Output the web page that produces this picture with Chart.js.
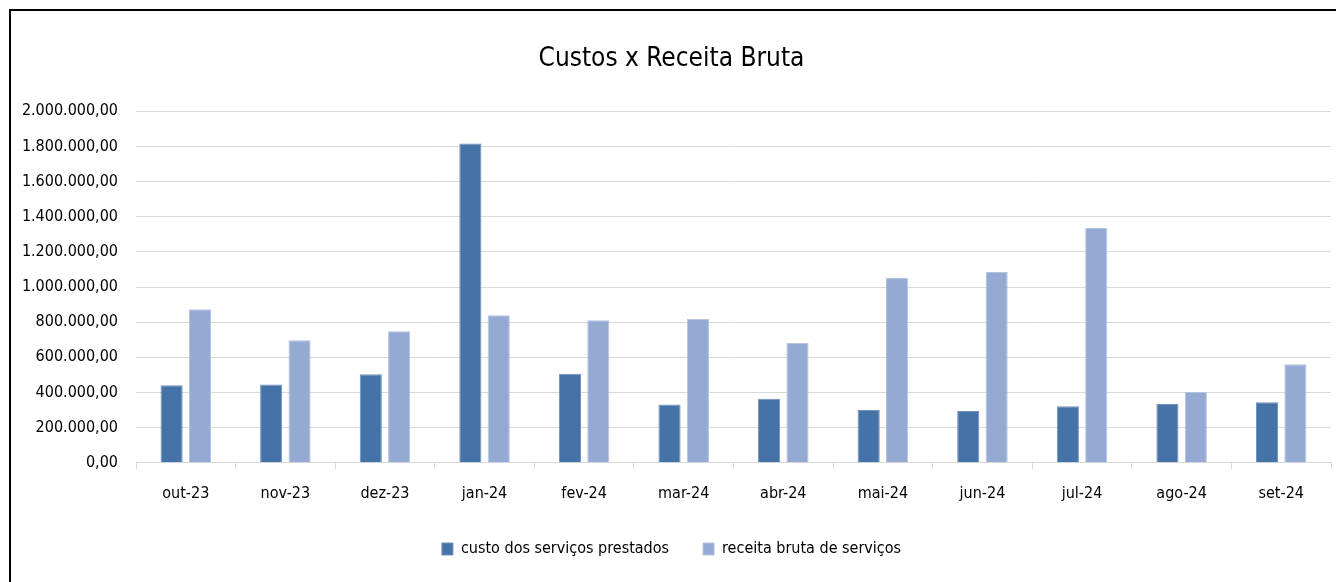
<!DOCTYPE html>
<html>
<head>
<meta charset="utf-8">
<script src="https://cdn.jsdelivr.net/npm/chart.js@4.4.0/dist/chart.umd.min.js"></script>
<style>
  body { margin: 0; background: #fff; overflow: hidden; }
  #wrap { position: relative; width: 1336px; height: 582px; overflow: hidden; }
  #moldura {
    position: absolute; left: 9px; top: 9px; width: 1400px; height: 600px;
    border-left: 2px solid #000; border-top: 2px solid #000; pointer-events: none;
  }
</style>
</head>
<body>
<div id="wrap">
  <canvas id="grafico" width="1336" height="582"></canvas>
  <div id="moldura"></div>
</div>
<script>
// dados do gráfico
const meses = ['out-23', 'nov-23', 'dez-23', 'jan-24', 'fev-24', 'mar-24', 'abr-24', 'mai-24', 'jun-24', 'jul-24', 'ago-24', 'set-24'];
const custos = [441000, 445000, 504000, 1816000, 506000, 331000, 365000, 301000, 294000, 322000, 335000, 345000];
const receita = [873000, 697000, 748000, 839000, 811000, 818000, 682000, 1051000, 1085000, 1335000, 403000, 561000];
const nomesSeries = ['custo dos serviços prestados', 'receita bruta de serviços'];
const titulo = 'Custos x Receita Bruta';

const fonte = "'Liberation Sans Narrow', 'DejaVu Sans Condensed', sans-serif";

// formato 1.234.567,00
function formataBR(v) {
    var inteiro = Math.round(v).toString();
    inteiro = inteiro.replace(/\B(?=(\d{3})+(?!\d))/g, '.');
    return inteiro + ',00';
}

const config = {
    type: 'bar',
    data: {
        labels: meses,
        datasets: [
            {
                label: nomesSeries[0],
                data: custos,
                backgroundColor: '#4673a7',
                borderColor: '#6f8fbc',
                borderWidth: 1,
                categoryPercentage: 0.57,
                barPercentage: 0.78
            },
            {
                label: nomesSeries[1],
                data: receita,
                backgroundColor: '#95aad2',
                borderColor: '#b3c3e0',
                borderWidth: 1,
                categoryPercentage: 0.57,
                barPercentage: 0.78
            }
        ]
    },
    options: {
        responsive: false,
        animation: false,
        layout: { padding: { left: 12, right: 5, top: 44, bottom: 15 } },
        plugins: {
            title: {
                display: true,
                text: titulo,
                color: '#000',
                font: { family: fonte, size: 26, weight: 'normal' },
                padding: { top: 0, bottom: 36 }
            },
            legend: {
                position: 'bottom',
                labels: {
                    color: '#000',
                    font: { family: fonte, size: 16 },
                    boxWidth: 11,
                    boxHeight: 12,
                    padding: 34
                }
            },
            tooltip: { enabled: false }
        },
        scales: {
            x: {
                afterFit: function(scale) { scale.height -= 11; },
                grid: { drawOnChartArea: false, drawTicks: true, tickLength: 6, color: '#d9d9d9' },
                border: { color: '#d9d9d9' },
                ticks: { color: '#000', font: { family: fonte, size: 16 }, padding: 15 }
            },
            y: {
                min: 0,
                max: 2000000,
                afterFit: function(scale) { scale.width = 124; },
                grid: { drawTicks: false, color: '#d9d9d9' },
                border: { display: false },
                ticks: {
                    stepSize: 200000,
                    color: '#000',
                    font: { family: fonte, size: 16 },
                    padding: 18,
                    callback: function(v) { return formataBR(v); }
                }
            }
        }
    }
};

const myChart = new Chart(document.getElementById('grafico'), config);
</script>
</body>
</html>
